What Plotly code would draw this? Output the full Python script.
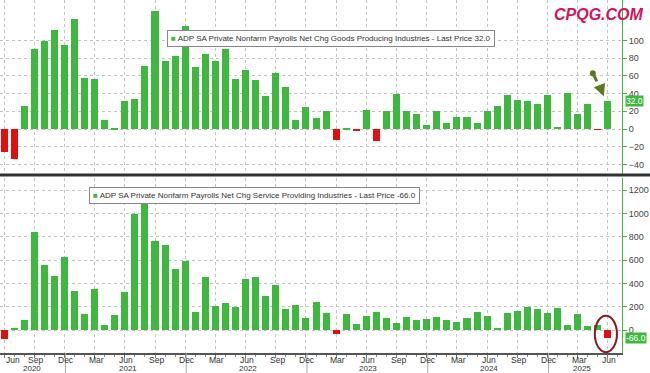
import plotly.graph_objects as go

# ---------------- data ----------------
months = ["Jun 2020", "Jul 2020", "Aug 2020", "Sep 2020", "Oct 2020", "Nov 2020", "Dec 2020",
          "Jan 2021", "Feb 2021", "Mar 2021", "Apr 2021", "May 2021", "Jun 2021", "Jul 2021",
          "Aug 2021", "Sep 2021", "Oct 2021", "Nov 2021", "Dec 2021", "Jan 2022", "Feb 2022",
          "Mar 2022", "Apr 2022", "May 2022", "Jun 2022", "Jul 2022", "Aug 2022", "Sep 2022",
          "Oct 2022", "Nov 2022", "Dec 2022", "Jan 2023", "Feb 2023", "Mar 2023", "Apr 2023",
          "May 2023", "Jun 2023", "Jul 2023", "Aug 2023", "Sep 2023", "Oct 2023", "Nov 2023",
          "Dec 2023", "Jan 2024", "Feb 2024", "Mar 2024", "Apr 2024", "May 2024", "Jun 2024",
          "Jul 2024", "Aug 2024", "Sep 2024", "Oct 2024", "Nov 2024", "Dec 2024", "Jan 2025",
          "Feb 2025", "Mar 2025", "Apr 2025", "May 2025", "Jun 2025"]

goods = [-26, -34, 26, 91, 99, 112, 95, 124, 58, 56, 10, 1.5, 32, 34, 71, 133, 77, 82, 116, 70,
         85, 77, 91, 56, 67, 55, 37, 63, 47, 10.5, 24.5, 12, 20, -12, 0.5, -1.5, 22, -14, 20, 40,
         20, 17.5, 5, 20, 7, 14, 14, 7, 20, 26, 38, 33, 32, 28, 38, 2.5, 41, 16.5, 28, -1, 32]

services = [-77, 20, 86, 840, 554, 463, 629, 334, 137, 351, 46, 126, 326, 991, 1100, 766, 726,
            520, 591, 151, 451, 206, 234, 197, 434, 454, 291, 386, 177, 211, 103, 240, 143, -37,
            137, 54, 123, 157, 100, 57, 114, 86, 91, 114, 86, 69, 106, 154, 120, 20, 146, 166,
            194, 177, 143, 186, 46, 137, 37, 40, -66]

tick_months = ["Jun", "Sep", "Dec", "Mar"]          # quarterly tick label cycle
year_labels = ["2020", "2021", "2022", "2023", "2024", "2025"]
goods_title = "ADP SA Private Nonfarm Payrolls Net Chg Goods Producing Industries - Last Price 32.0"
serv_title = "ADP SA Private Nonfarm Payrolls Net Chg Service Providing Industries - Last Price -66.0"
goods_last = "32.0"
serv_last = "-66.0"
goods_ticks = [-40, -20, 0, 20, 40, 60, 80, 100]
serv_ticks = [0, 200, 400, 600, 800, 1000, 1200]

# ---------------- styling ----------------
GREEN = "#3fb83f"
RED = "#e01010"
GRID = "#c4c4c4"
FONT = "Liberation Sans, Arial, sans-serif"
LBL = dict(size=8.5, color="#333", family=FONT)

idx = list(range(len(months)))
gcolors = [GREEN if v >= 0 else RED for v in goods]
scolors = [GREEN if v >= 0 else RED for v in services]

tickvals = idx[::3]
ticktext = [tick_months[i % 4] for i in range(len(tickvals))]
year_pos = [2.8, 12.3, 24.2, 36.2, 48.2, 57.4]
dec_pos = [v for v, t in zip(tickvals, ticktext) if t == "Dec"]

W, H = 650, 373
ML, MR, MT, MB = 0, 28, 0, 20
PW, PH = W - ML - MR, H - MT - MB
XR = [-0.4, 61.4]

top_dom = [1 - 174 / PH, 1]
bot_dom = [0, (PH - 178) / PH]

fig = go.Figure()
fig.add_trace(go.Bar(x=idx, y=goods, marker=dict(color=gcolors, line=dict(width=0)),
                     width=0.7, xaxis="x", yaxis="y", showlegend=False))
fig.add_trace(go.Bar(x=idx, y=services, marker=dict(color=scolors, line=dict(width=0)),
                     width=0.7, xaxis="x2", yaxis="y2", showlegend=False))

yaxis_common = dict(side="right", showline=True, linecolor=GREEN, linewidth=1,
                    ticks="outside", ticklen=4, tickcolor=GREEN,
                    tickfont=dict(size=9, color="#444", family=FONT),
                    showgrid=True, gridcolor=GRID, griddash="dot", gridwidth=1,
                    zeroline=False)

fig.update_layout(
    width=W, height=H,
    margin=dict(l=ML, r=MR, t=MT, b=MB),
    paper_bgcolor="white", plot_bgcolor="white",
    bargap=0,
    font=dict(family=FONT),
    xaxis=dict(domain=[0, 1], anchor="y", range=XR, tickvals=tickvals,
               showticklabels=False, ticks="", showgrid=True, gridcolor=GRID,
               griddash="dot", zeroline=False, showline=False),
    yaxis=dict(domain=top_dom, anchor="x", range=[-50.8, 145.8], tickvals=goods_ticks,
               **yaxis_common),
    xaxis2=dict(domain=[0, 1], anchor="y2", range=XR, tickvals=tickvals,
                showticklabels=False, ticks="outside", ticklen=3, tickcolor="#777",
                minor=dict(dtick=1, tick0=0, ticks="outside", ticklen=2, tickcolor="#888"),
                showgrid=True, gridcolor=GRID, griddash="dot", zeroline=False,
                showline=True, linecolor="#555", linewidth=2),
    yaxis2=dict(domain=bot_dom, anchor="x2", range=[-197, 1303], tickvals=serv_ticks,
                **yaxis_common),
)

shapes = []
# panel separator
sep_y = 1 - 175 / PH
shapes.append(dict(type="line", xref="paper", yref="paper", x0=0, x1=W / PW, y0=sep_y, y1=sep_y,
                   line=dict(color="#333", width=3)))
# year separators below the axis
for d in dec_pos:
    shapes.append(dict(type="line", xref="x2", yref="paper", x0=d + 0.1, x1=d + 0.1,
                       y0=0, y1=-MB / PH, line=dict(color="#aaa", width=1)))
# dashed arrow shaft
shapes.append(dict(type="line", xref="x", yref="y", x0=58.5, y0=63, x1=59.3, y1=45,
                   line=dict(color="#5b7a22", width=3, dash="dash")))
shapes.append(dict(type="circle", xref="x", yref="y", xsizemode="pixel", ysizemode="pixel",
                   xanchor=58.5, yanchor=63, x0=-3, x1=3, y0=-3, y1=3,
                   fillcolor="#5b7a22", line=dict(width=0)))
# red ellipse
shapes.append(dict(type="circle", xref="x2", yref="y2", x0=58.7, x1=60.9, y0=-190, y1=122,
                   line=dict(color="#8b1a1a", width=2)))
fig.update_layout(shapes=shapes)

ann = []
# legends
ann.append(dict(xref="paper", yref="paper", x=167 / PW, y=1 - 30 / PH, xanchor="left",
                yanchor="top", showarrow=False,
                text=f'<span style="color:{GREEN}">■</span> {goods_title}',
                font=dict(size=8, color="#333", family=FONT),
                bgcolor="white", bordercolor="#888", borderwidth=1, borderpad=3))
ann.append(dict(xref="paper", yref="paper", x=89 / PW, y=1 - 187 / PH, xanchor="left",
                yanchor="top", showarrow=False,
                text=f'<span style="color:{GREEN}">■</span> {serv_title}',
                font=dict(size=8, color="#333", family=FONT),
                bgcolor="white", bordercolor="#888", borderwidth=1, borderpad=3))
# last price tags
ann.append(dict(xref="paper", yref="y", x=1, y=goods[-1], xanchor="left", xshift=3,
                showarrow=False, text=goods_last, font=dict(size=8.5, color="white", family=FONT),
                bgcolor=GREEN, borderpad=0))
ann.append(dict(xref="paper", yref="y2", x=1, y=services[-1], xanchor="left", xshift=3,
                showarrow=False, text=serv_last, font=dict(size=8.5, color="white", family=FONT),
                bgcolor=GREEN, borderpad=0))
# arrow head
ann.append(dict(xref="x", yref="y", axref="x", ayref="y", x=59.6, y=37, ax=59.25, ay=47,
                showarrow=True, arrowhead=2, arrowsize=0.8, arrowwidth=3, arrowcolor="#5b7a22",
                text=""))
# month tick labels (first one left-aligned so it is not cut at the edge)
for i, (v, t) in enumerate(zip(tickvals, ticktext)):
    ann.append(dict(xref="x2", yref="paper", x=v, y=0, xanchor="left" if i == 0 else "center",
                    yanchor="middle", xshift=0 if i == 0 else 1.5, yshift=-7,
                    showarrow=False, text=t, font=LBL))
for p, yl in zip(year_pos, year_labels):
    ann.append(dict(xref="x2", yref="paper", x=p, y=0, xanchor="center", yanchor="middle",
                    yshift=-15.5, showarrow=False, text=yl,
                    font=dict(size=8, color="#333", family=FONT)))
# watermark
ann.append(dict(xref="paper", yref="paper", x=599 / PW, y=1 - 14 / PH, xanchor="center",
                yanchor="middle", showarrow=False, text="CPQG.COM",
                font=dict(size=16, color="#d4145a", family="Liberation Sans, Arial",
                          weight="bold", style="italic")))
fig.update_layout(annotations=ann)

fig.write_html("out.html", config={"displayModeBar": False},
               post_script="document.body.style.margin='0';")
